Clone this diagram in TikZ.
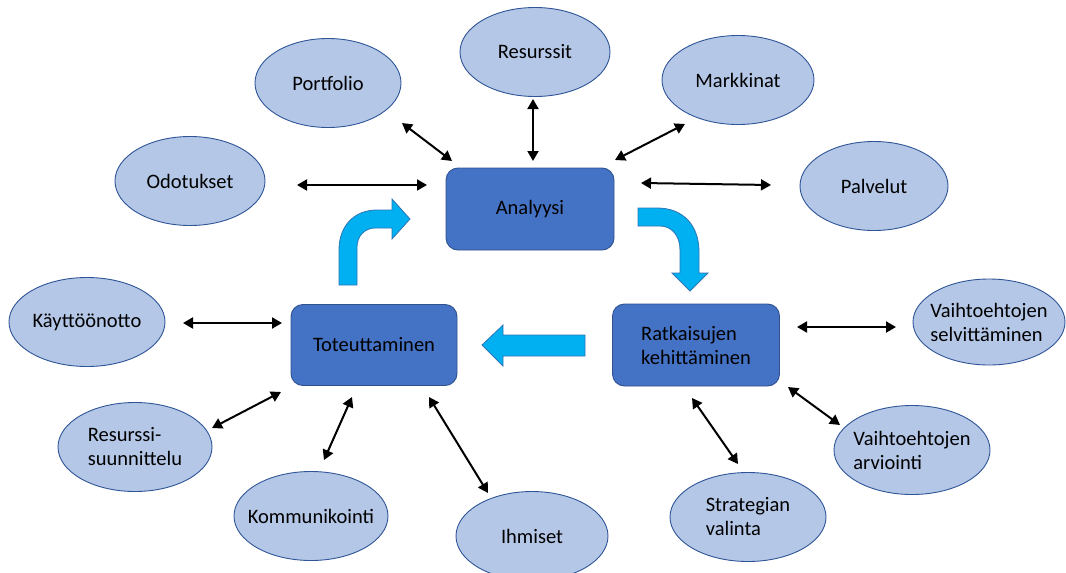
\documentclass[tikz,border=0pt]{standalone}
\usepackage{fontspec}
\setmainfont{Carlito}
\usetikzlibrary{shapes.geometric,arrows.meta}
\definecolor{ellfill}{HTML}{B4C7E7}
\definecolor{ellline}{HTML}{2F5597}
\definecolor{boxfill}{HTML}{4472C4}
\definecolor{boxline}{HTML}{2F528F}
\definecolor{flowfill}{HTML}{00B0F0}
\definecolor{flowline}{HTML}{2E75B6}
\tikzset{
  ell/.style={ellipse, draw=ellline, line width=0.9pt, fill=ellfill, inner xsep=-22pt, inner ysep=-16pt,
    minimum width=154pt, minimum height=89pt, font=\fontsize{20.5}{24}\selectfont, align=left},
  box/.style={rectangle, rounded corners=12pt, draw=boxline, line width=0.9pt, fill=boxfill,
    minimum width=167pt, minimum height=81pt, inner sep=0pt, font=\fontsize{20.5}{24}\selectfont, align=left},
  dbl/.style={line width=2pt, {Triangle[length=10pt,width=11pt]}-{Triangle[length=10pt,width=11pt]}},
  flow/.style={draw=flowline, line width=0.8pt, fill=flowfill}
}
\begin{document}
\begin{tikzpicture}[x=1pt,y=-1pt]
\useasboundingbox (0,0) rectangle (1066,573);
% ellipses
\node[ell, minimum width=150pt] (res) at (535,52) {Resurssit};
\node[ell, minimum width=146pt] (por) at (328,83) {Portfolio};
\node[ell, minimum width=152pt] (mar) at (738,80) {Markkinat};
\node[ell, minimum width=150pt] (odo) at (190,181) {Odotukset};
\node[ell, minimum width=148pt] (pal) at (874,186) {Palvelut};
\node[ell, minimum width=156pt] (kay) at (87,322) {Käyttöönotto};
\node[ell] (rsu) at (135,447) {Resurssi-\\suunnittelu};
\node[ell] (kom) at (311,516) {Kommunikointi};
\node[ell, minimum width=152pt] (ihm) at (532,536) {Ihmiset};
\node[ell, minimum width=156pt] (str) at (748,517) {Strategian\\valinta};
\node[ell, minimum width=156pt] (arv) at (912,450) {Vaihtoehtojen\\arviointi};
\node[ell, minimum width=152pt, minimum height=86pt] (sel) at (989,322) {Vaihtoehtojen\\selvittäminen};
% boxes
\node[box, minimum width=168pt, minimum height=82pt] (ana) at (530,209) {Analyysi};
\node[box, minimum width=166pt] (tot) at (374,345) {Toteuttaminen};
\node[box, minimum width=167pt, minimum height=82pt] (rat) at (696,345) {Ratkaisujen\\kehittäminen};
% connectors
\coordinate (a1) at (402,123); \coordinate (a2) at (452,161);
\coordinate (b1) at (533,99);  \coordinate (b2) at (533,161);
\coordinate (c1) at (685,124); \coordinate (c2) at (615,160);
\coordinate (d1) at (297,185); \coordinate (d2) at (427,185);
\coordinate (e1) at (641,183); \coordinate (e2) at (771,185);
\coordinate (f1) at (183,323); \coordinate (f2) at (282,323);
\coordinate (g1) at (212,428); \coordinate (g2) at (281,392);
\coordinate (h1) at (324,460); \coordinate (h2) at (352,397);
\coordinate (i1) at (429,397); \coordinate (i2) at (488,493);
\coordinate (j1) at (692,398); \coordinate (j2) at (738,464);
\coordinate (k1) at (788,387); \coordinate (k2) at (840,425);
\coordinate (l1) at (797,327); \coordinate (l2) at (896,327);
\draw[dbl] (a1) -- (a2);
\draw[dbl] (b1) -- (b2);
\draw[dbl] (c1) -- (c2);
\draw[dbl] (d1) -- (d2);
\draw[dbl] (e1) -- (e2);
\draw[dbl] (f1) -- (f2);
\draw[dbl] (g1) -- (g2);
\draw[dbl] (h1) -- (h2);
\draw[dbl] (i1) -- (i2);
\draw[dbl] (j1) -- (j2);
\draw[dbl] (k1) -- (k2);
\draw[dbl] (l1) -- (l2);
% block arrows
\draw[flow] (339,285) -- (339,250) .. controls (339,226) and (354,210) .. (377,210)
  -- (392,210) -- (392,199) -- (410,219) -- (392,239) -- (392,228) -- (375,228)
  .. controls (365,228) and (357,236) .. (357,247) -- (357,285) -- cycle;
\draw[flow] (638,208) -- (657,208) .. controls (683,208) and (699,225) .. (699,252)
  -- (699,273) -- (708,273) -- (690,291) -- (672,273) -- (680,273) -- (680,250)
  .. controls (680,236) and (672,226) .. (660,226) -- (638,226) -- cycle;
\draw[flow] (585,335) -- (503,335) -- (503,325) -- (482,345) -- (503,366) -- (503,356)
  -- (585,356) -- cycle;
\end{tikzpicture}
\end{document}
